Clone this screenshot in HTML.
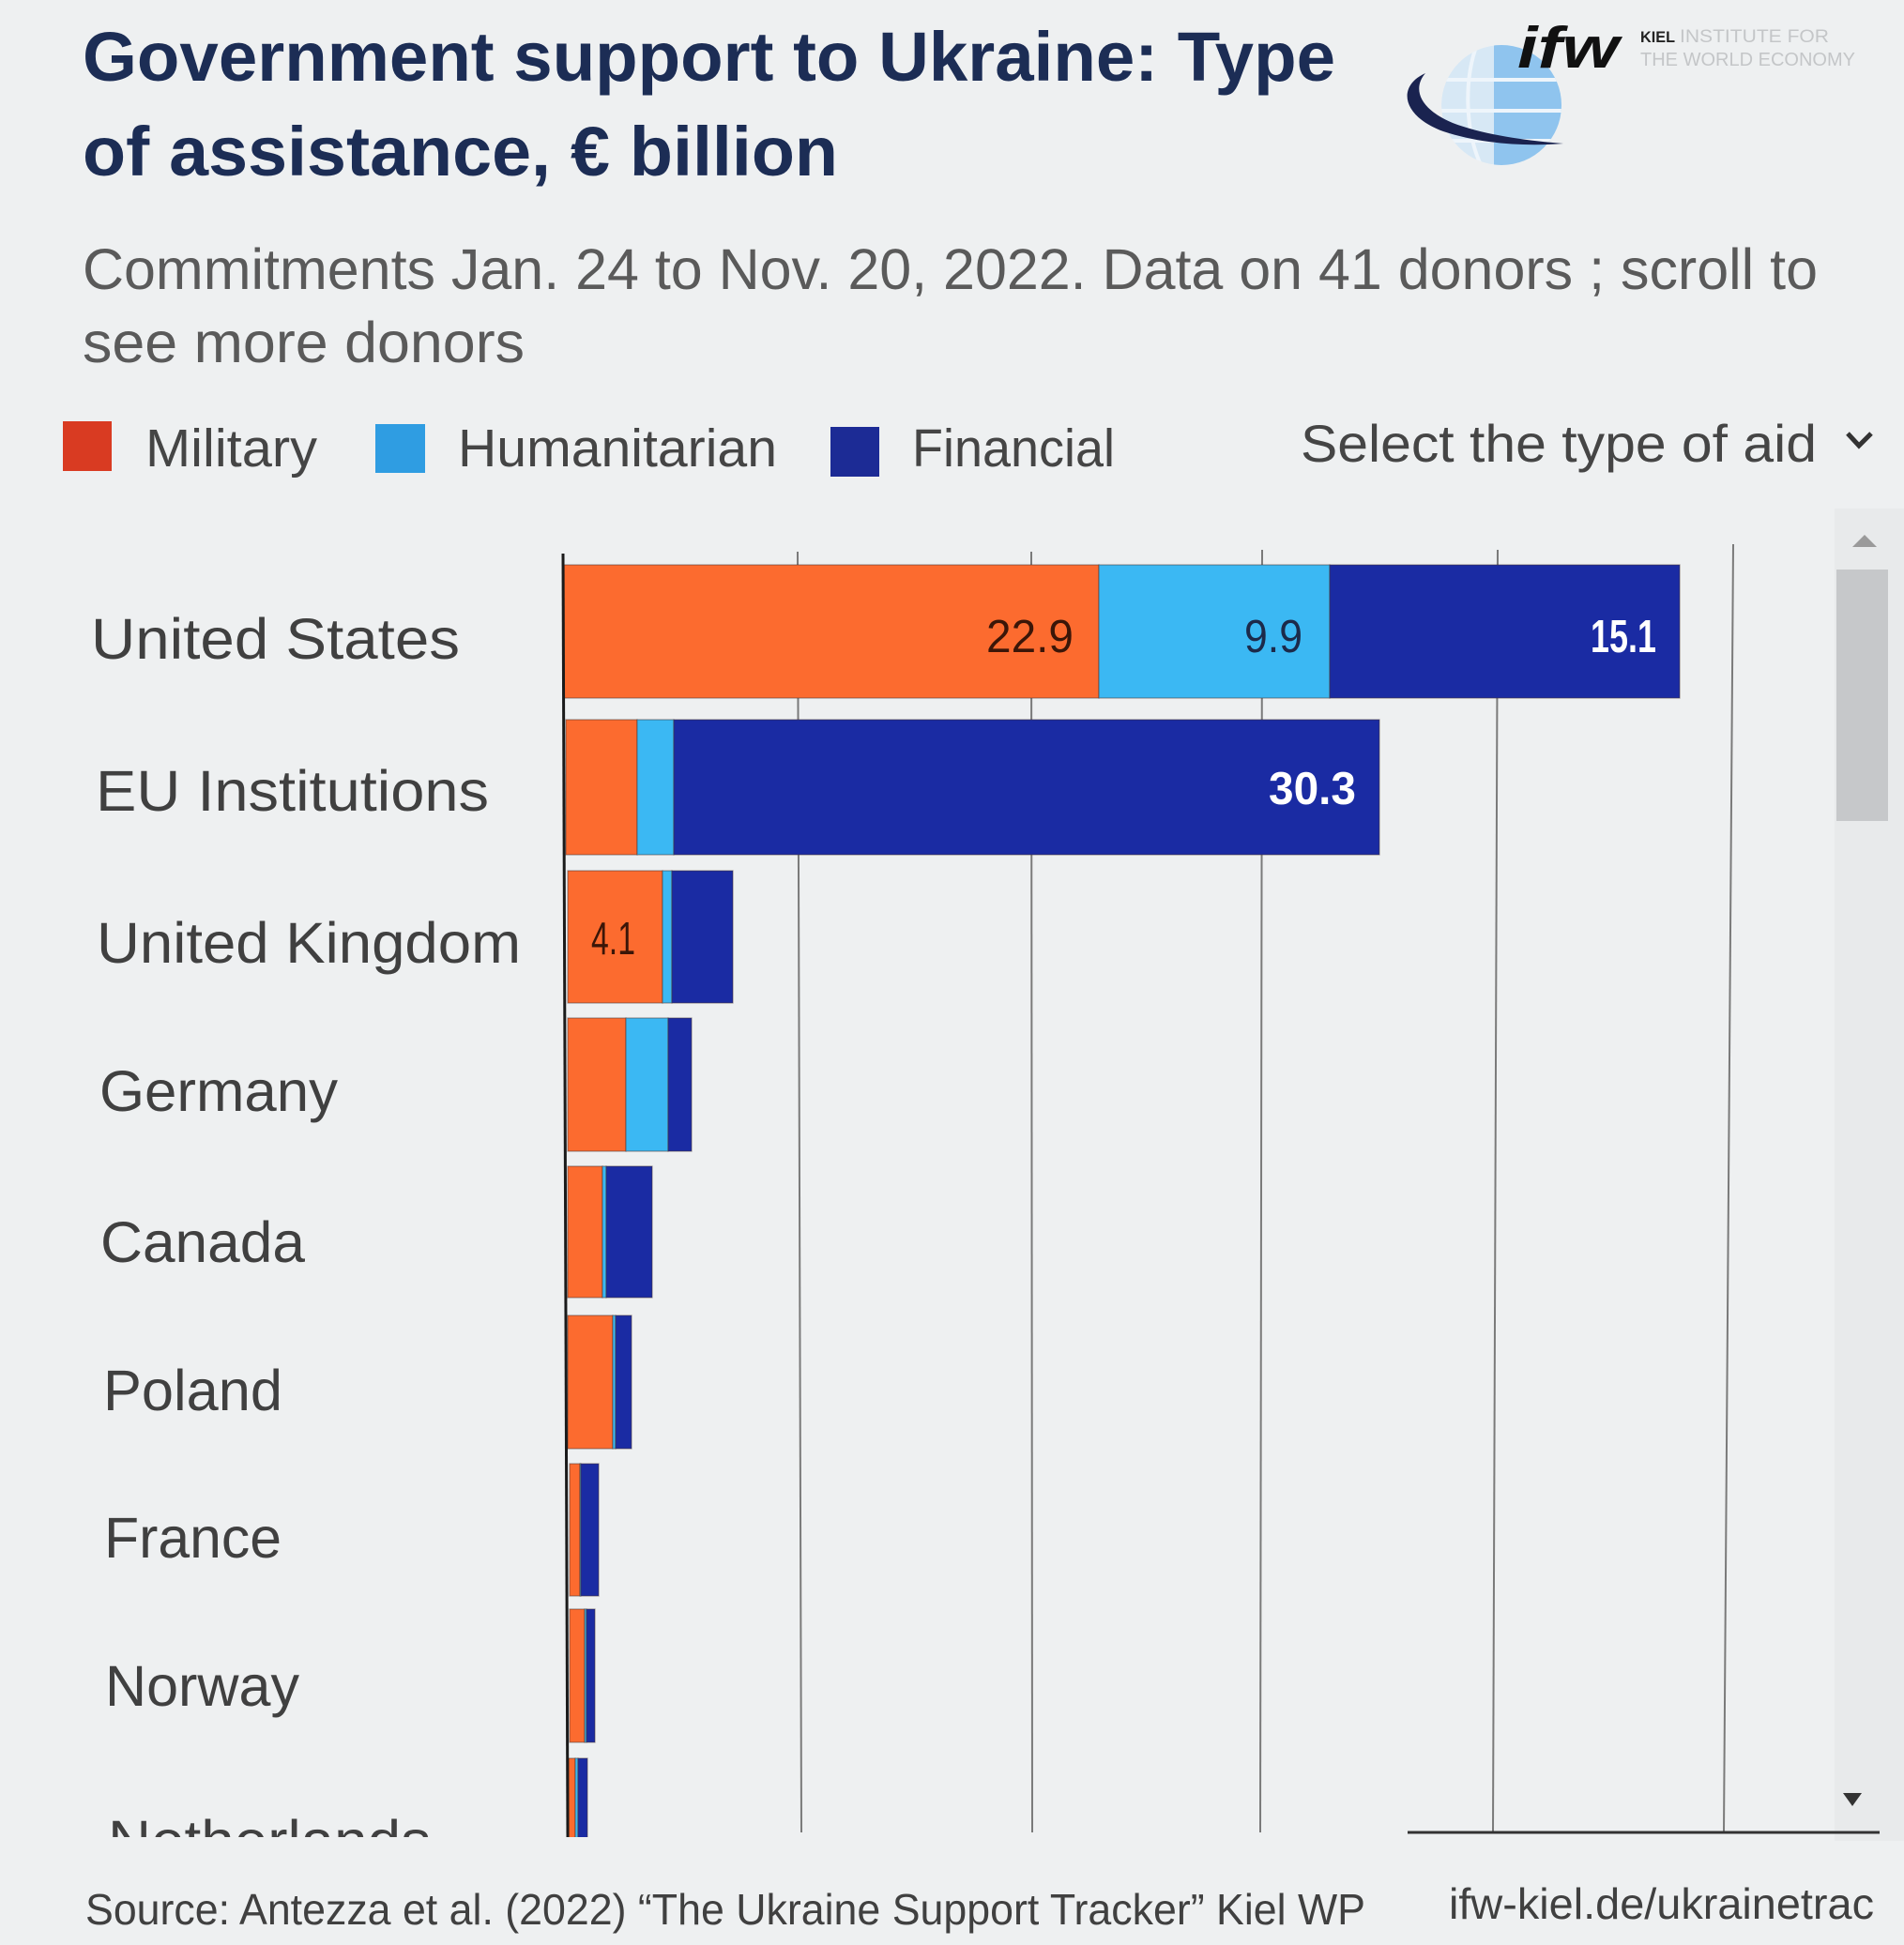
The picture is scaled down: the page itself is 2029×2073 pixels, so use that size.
<!DOCTYPE html>
<html>
<head>
<meta charset="utf-8">
<style>
  html,body{margin:0;padding:0;background:#eef0f1;}
  svg{display:block;}
  text{font-family:"Liberation Sans",sans-serif;}
</style>
</head>
<body>
<svg width="2029" height="2073" viewBox="0 0 2029 2073" xmlns="http://www.w3.org/2000/svg">
  <defs>
    <clipPath id="plotclip"><rect x="0" y="540" width="1950" height="1418"/></clipPath>
    <clipPath id="globeclip"><circle cx="1600" cy="112" r="64"/></clipPath>
  </defs>
  <rect x="0" y="0" width="2029" height="2073" fill="#eef0f1"/>

  <!-- Title -->
  <text x="88" y="86" font-size="74" font-weight="bold" fill="#1c2d55" textLength="1335" lengthAdjust="spacingAndGlyphs">Government support to Ukraine: Type</text>
  <text x="88" y="187" font-size="74" font-weight="bold" fill="#1c2d55" textLength="805" lengthAdjust="spacingAndGlyphs">of assistance, € billion</text>

  <!-- Logo -->
  <g clip-path="url(#globeclip)">
    <circle cx="1600" cy="112" r="64" fill="#d7e8f5"/>
    <rect x="1592" y="40" width="80" height="150" fill="#8fc4ee"/>
    <line x1="1530" y1="85" x2="1670" y2="85" stroke="#eef5fb" stroke-width="4"/>
    <line x1="1530" y1="118" x2="1670" y2="118" stroke="#eef5fb" stroke-width="4"/>
    <line x1="1530" y1="150" x2="1670" y2="150" stroke="#eef5fb" stroke-width="4"/>
    <path d="M1575,45 C1560,80 1560,140 1580,180" stroke="#eef5fb" stroke-width="4" fill="none"/>
  </g>
  <path d="M1519,78 C1488,92 1494,124 1538,140 C1580,154 1628,156 1666,153 C1628,150 1582,144 1548,131 C1512,116 1505,94 1519,78 Z" fill="#1a2350"/>
  <text x="1617" y="72" font-size="62" font-weight="bold" font-style="italic" fill="#111" textLength="108" lengthAdjust="spacingAndGlyphs">ifw</text>
  <text x="1748" y="45" font-size="17" font-weight="bold" fill="#222" textLength="37" lengthAdjust="spacingAndGlyphs">KIEL</text>
  <text x="1790" y="45" font-size="19" fill="#c4c6c8" textLength="159" lengthAdjust="spacingAndGlyphs">INSTITUTE FOR</text>
  <text x="1748" y="70" font-size="20" fill="#c4c6c8" textLength="229" lengthAdjust="spacingAndGlyphs">THE WORLD ECONOMY</text>

  <!-- Subtitle -->
  <text x="88" y="308" font-size="61" fill="#5a5a5a" textLength="1849" lengthAdjust="spacingAndGlyphs">Commitments Jan. 24 to Nov. 20, 2022. Data on 41 donors ; scroll to</text>
  <text x="88" y="386" font-size="61" fill="#5a5a5a" textLength="471" lengthAdjust="spacingAndGlyphs">see more donors</text>

  <!-- Legend -->
  <rect x="67" y="449" width="52" height="53" fill="#d93b22"/>
  <text x="155" y="497" font-size="57" fill="#454545" textLength="183" lengthAdjust="spacingAndGlyphs">Military</text>
  <rect x="400" y="452" width="53" height="52" fill="#2f9de2"/>
  <text x="488" y="497" font-size="57" fill="#454545" textLength="340" lengthAdjust="spacingAndGlyphs">Humanitarian</text>
  <rect x="885" y="455" width="52" height="53" fill="#1c2b95"/>
  <text x="972" y="497" font-size="57" fill="#454545" textLength="216" lengthAdjust="spacingAndGlyphs">Financial</text>
  <text x="1386" y="492" font-size="56" fill="#454545" textLength="550" lengthAdjust="spacingAndGlyphs">Select the type of aid</text>
  <polyline points="1969,462 1981,475 1994,462" fill="none" stroke="#333" stroke-width="5"/>

  <!-- Scrollbar -->
  <rect x="1955" y="542" width="74" height="1420" fill="#e8eaeb"/>
  <rect x="1957" y="607" width="55" height="268" fill="#c6c8ca"/>
  <polygon points="1974,583 2000,583 1987,570" fill="#9a9a9a"/>
  <polygon points="1964,1911 1984,1911 1974,1925" fill="#333"/>

  <!-- Gridlines -->
  <g stroke="#7a7a7a" stroke-width="2">
    <line x1="850" y1="588" x2="854" y2="1953"/>
    <line x1="1099" y1="588" x2="1100" y2="1953"/>
    <line x1="1345" y1="586" x2="1343" y2="1953"/>
    <line x1="1596" y1="586" x2="1591" y2="1953"/>
    <line x1="1847" y1="580" x2="1837" y2="1953"/>
  </g>
  <line x1="1500" y1="1953" x2="2003" y2="1953" stroke="#333" stroke-width="3"/>

  <!-- Bars -->
  <g clip-path="url(#plotclip)" stroke="#4a3a3a" stroke-width="1.2" stroke-opacity="0.5">
    <rect x="601" y="602" width="570" height="142" fill="#fc6b2f"/>
    <rect x="1171" y="602" width="246" height="142" fill="#3bb8f3"/>
    <rect x="1417" y="602" width="373" height="142" fill="#1a2ba3"/>
    <rect x="603" y="767" width="76" height="144" fill="#fc6b2f"/>
    <rect x="679" y="767" width="39" height="144" fill="#3bb8f3"/>
    <rect x="718" y="767" width="752" height="144" fill="#1a2ba3"/>
    <rect x="605" y="928" width="101" height="141" fill="#fc6b2f"/>
    <rect x="706" y="928" width="10" height="141" fill="#3bb8f3"/>
    <rect x="716" y="928" width="65" height="141" fill="#1a2ba3"/>
    <rect x="605" y="1085" width="62" height="142" fill="#fc6b2f"/>
    <rect x="667" y="1085" width="45" height="142" fill="#3bb8f3"/>
    <rect x="712" y="1085" width="25" height="142" fill="#1a2ba3"/>
    <rect x="605" y="1243" width="37" height="140" fill="#fc6b2f"/>
    <rect x="642" y="1243" width="4" height="140" fill="#3bb8f3"/>
    <rect x="646" y="1243" width="49" height="140" fill="#1a2ba3"/>
    <rect x="605" y="1402" width="48" height="142" fill="#fc6b2f"/>
    <rect x="653" y="1402" width="3" height="142" fill="#3bb8f3"/>
    <rect x="656" y="1402" width="17" height="142" fill="#1a2ba3"/>
    <rect x="607" y="1560" width="11" height="141" fill="#fc6b2f"/>
    <rect x="618" y="1560" width="1" height="141" fill="#3bb8f3"/>
    <rect x="619" y="1560" width="19" height="141" fill="#1a2ba3"/>
    <rect x="607" y="1715" width="16" height="142" fill="#fc6b2f"/>
    <rect x="623" y="1715" width="2" height="142" fill="#3bb8f3"/>
    <rect x="625" y="1715" width="9" height="142" fill="#1a2ba3"/>
    <rect x="606" y="1874" width="7" height="100" fill="#fc6b2f"/>
    <rect x="613" y="1874" width="3" height="100" fill="#3bb8f3"/>
    <rect x="616" y="1874" width="10" height="100" fill="#1a2ba3"/>
  </g>

  <!-- Axis line -->
  <line x1="600" y1="590" x2="605" y2="1958" stroke="#1a1a1a" stroke-width="3"/>

  <!-- Value labels -->
  <text x="1051" y="695" font-size="49" fill="#3b1608" textLength="93" lengthAdjust="spacingAndGlyphs">22.9</text>
  <text x="1326" y="695" font-size="49" fill="#1c2a4a" textLength="62" lengthAdjust="spacingAndGlyphs">9.9</text>
  <text x="1695" y="695" font-size="49" font-weight="bold" fill="#ffffff" textLength="70" lengthAdjust="spacingAndGlyphs">15.1</text>
  <text x="1352" y="857" font-size="49" font-weight="bold" fill="#ffffff" textLength="93" lengthAdjust="spacingAndGlyphs">30.3</text>
  <text x="630" y="1017" font-size="49" fill="#3b1608" textLength="47" lengthAdjust="spacingAndGlyphs">4.1</text>

  <!-- Country labels -->
  <g font-size="61" fill="#404040">
    <text x="97" y="702" textLength="393" lengthAdjust="spacingAndGlyphs">United States</text>
    <text x="102" y="864" textLength="419" lengthAdjust="spacingAndGlyphs">EU Institutions</text>
    <text x="103" y="1026" textLength="452" lengthAdjust="spacingAndGlyphs">United Kingdom</text>
    <text x="106" y="1184" textLength="254" lengthAdjust="spacingAndGlyphs">Germany</text>
    <text x="107" y="1345" textLength="218" lengthAdjust="spacingAndGlyphs">Canada</text>
    <text x="110" y="1503" textLength="191" lengthAdjust="spacingAndGlyphs">Poland</text>
    <text x="111" y="1660" textLength="189" lengthAdjust="spacingAndGlyphs">France</text>
    <text x="112" y="1818" textLength="207" lengthAdjust="spacingAndGlyphs">Norway</text>
  </g>
  <g clip-path="url(#plotclip)">
    <text x="115" y="1983" font-size="61" fill="#404040" textLength="344" lengthAdjust="spacingAndGlyphs">Netherlands</text>
  </g>

  <!-- Footer -->
  <text x="91" y="2051" font-size="46" fill="#404040" textLength="1364" lengthAdjust="spacingAndGlyphs">Source: Antezza et al. (2022) “The Ukraine Support Tracker” Kiel WP</text>
  <text x="1544" y="2045" font-size="46" fill="#404040" textLength="453" lengthAdjust="spacingAndGlyphs">ifw-kiel.de/ukrainetrac</text>
</svg>
</body>
</html>
